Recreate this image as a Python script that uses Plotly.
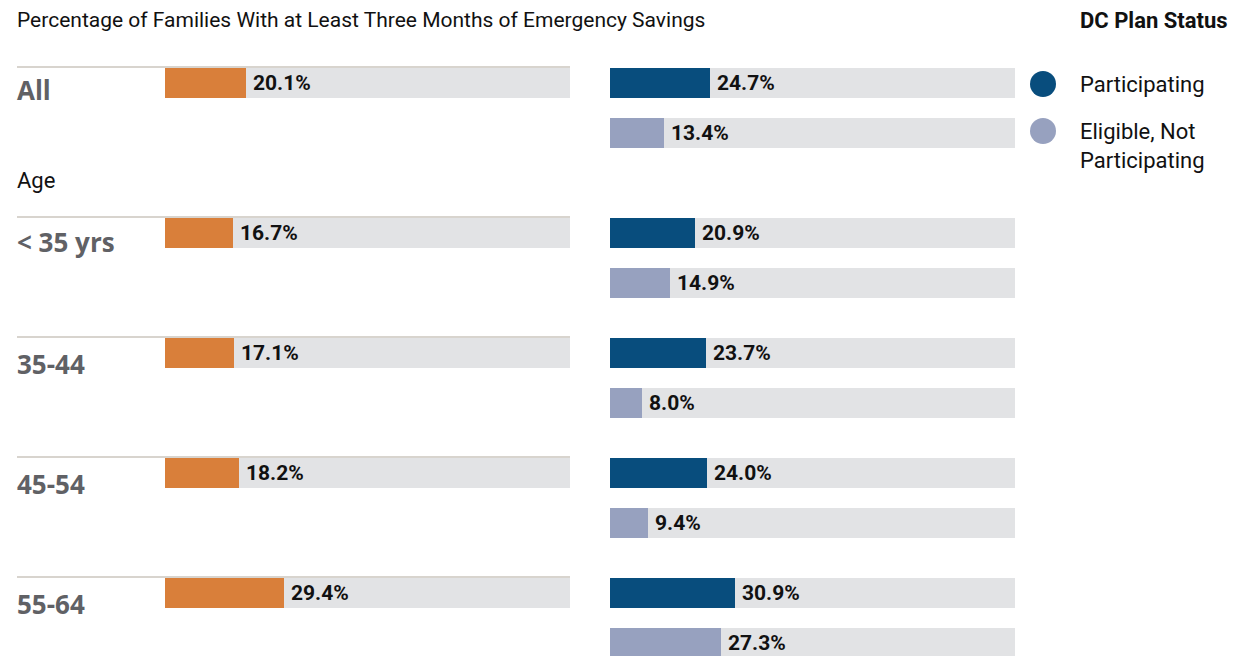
import plotly.graph_objects as go

# ---- data ----
groups = ["All", "< 35 yrs", "35-44", "45-54", "55-64"]
all_families = [20.1, 16.7, 17.1, 18.2, 29.4]
participating = [24.7, 20.9, 23.7, 24.0, 30.9]
eligible_not = [13.4, 14.9, 8.0, 9.4, 27.3]
series_names = ["Participating", "Eligible, Not<br>Participating"]

# ---- layout constants (pixels) ----
W, H = 1248, 656
BAR_H = 30
ORANGE = "#d97f3a"
DARK = "#084d7d"
LIGHT = "#97a1bf"
GRAY = "#e2e3e5"
NARROW = "Roboto, Liberation Sans, sans-serif"
BOLDLAB = "Open Sans, sans-serif"

def group_top(i):
    return 68 if i == 0 else 218 + 120 * (i - 1)

tops = [group_top(i) for i in range(len(groups))]
c1 = [t + BAR_H / 2 for t in tops]          # first row center
c2 = [t + 50 + BAR_H / 2 for t in tops]     # second row center

fig = go.Figure()

def bars(x, y, color, xaxis):
    fig.add_trace(go.Bar(x=x, y=y, orientation="h", width=BAR_H,
                         marker=dict(color=color, line=dict(width=0)),
                         xaxis=xaxis, yaxis="y", showlegend=False,
                         hoverinfo="skip"))

full = [100] * len(groups)
bars(full, c1, GRAY, "x")
bars(all_families, c1, ORANGE, "x")
bars(full + full, c1 + c2, GRAY, "x2")
bars(participating, c1, DARK, "x2")
bars(eligible_not, c2, LIGHT, "x2")

ann = []
def labels(vals, ys, xref):
    for v, y in zip(vals, ys):
        ann.append(dict(x=v, y=y, xref=xref, yref="y", text=f"{v:.1f}%",
                        showarrow=False, xanchor="left", yanchor="middle",
                        xshift=5, font=dict(family=NARROW, size=21, color="#111111",
                                            weight="bold")))

labels(all_families, c1, "x")
labels(participating, c1, "x2")
labels(eligible_not, c2, "x2")

# category labels
for i, (g, t) in enumerate(zip(groups, tops)):
    off = 22 if i == 0 else (24 if i == 1 else 26)
    ann.append(dict(x=15 / W, y=t + off, xref="paper", yref="y", text=g,
                    showarrow=False, xanchor="left", yanchor="middle",
                    font=dict(family=BOLDLAB, size=26, color="#606165", weight="bold")))

ann.append(dict(x=15 / W, y=180, xref="paper", yref="y", text="Age",
                showarrow=False, xanchor="left", yanchor="middle",
                font=dict(family=NARROW, size=22, color="#111111")))
ann.append(dict(x=15 / W, y=20, xref="paper", yref="y",
                text="Percentage of Families With at Least Three Months of Emergency Savings",
                showarrow=False, xanchor="left", yanchor="middle",
                font=dict(family=NARROW, size=21, color="#111111")))
ann.append(dict(x=1078 / W, y=20, xref="paper", yref="y", text="DC Plan Status",
                showarrow=False, xanchor="left", yanchor="middle",
                font=dict(family=NARROW, size=22, color="#111111", weight="bold")))

# legend
shapes = []
leg_y = [84, 131]
for name, col, y in zip(series_names, [DARK, LIGHT], leg_y):
    shapes.append(dict(type="circle", xref="paper", yref="y",
                       x0=(1043 - 13) / W, x1=(1043 + 13) / W, y0=y - 13, y1=y + 13,
                       fillcolor=col, line=dict(width=0)))
    ann.append(dict(x=1078 / W, y=y - 14, xref="paper", yref="y", text=name,
                    showarrow=False, xanchor="left", yanchor="top", align="left",
                    font=dict(family=NARROW, size=22, color="#111111")))

# separator lines
for t in tops:
    shapes.append(dict(type="line", xref="paper", yref="y", x0=17 / W, x1=570 / W,
                       y0=t - 1, y1=t - 1, line=dict(color="#cbc6be", width=1.5),
                       layer="above"))

fig.update_layout(
    width=W, height=H, margin=dict(l=0, r=0, t=0, b=0),
    paper_bgcolor="white", plot_bgcolor="white",
    barmode="overlay", bargap=0,
    xaxis=dict(domain=[165 / W, 570 / W], range=[0, 100], visible=False, fixedrange=True),
    xaxis2=dict(domain=[610 / W, 1015 / W], range=[0, 100], visible=False, fixedrange=True),
    yaxis=dict(domain=[0, 1], range=[H, 0], visible=False, fixedrange=True),
    annotations=ann, shapes=shapes, showlegend=False,
)

fig.write_html("out.html", config={"displayModeBar": False},
               post_script="document.body.style.margin='0';")
